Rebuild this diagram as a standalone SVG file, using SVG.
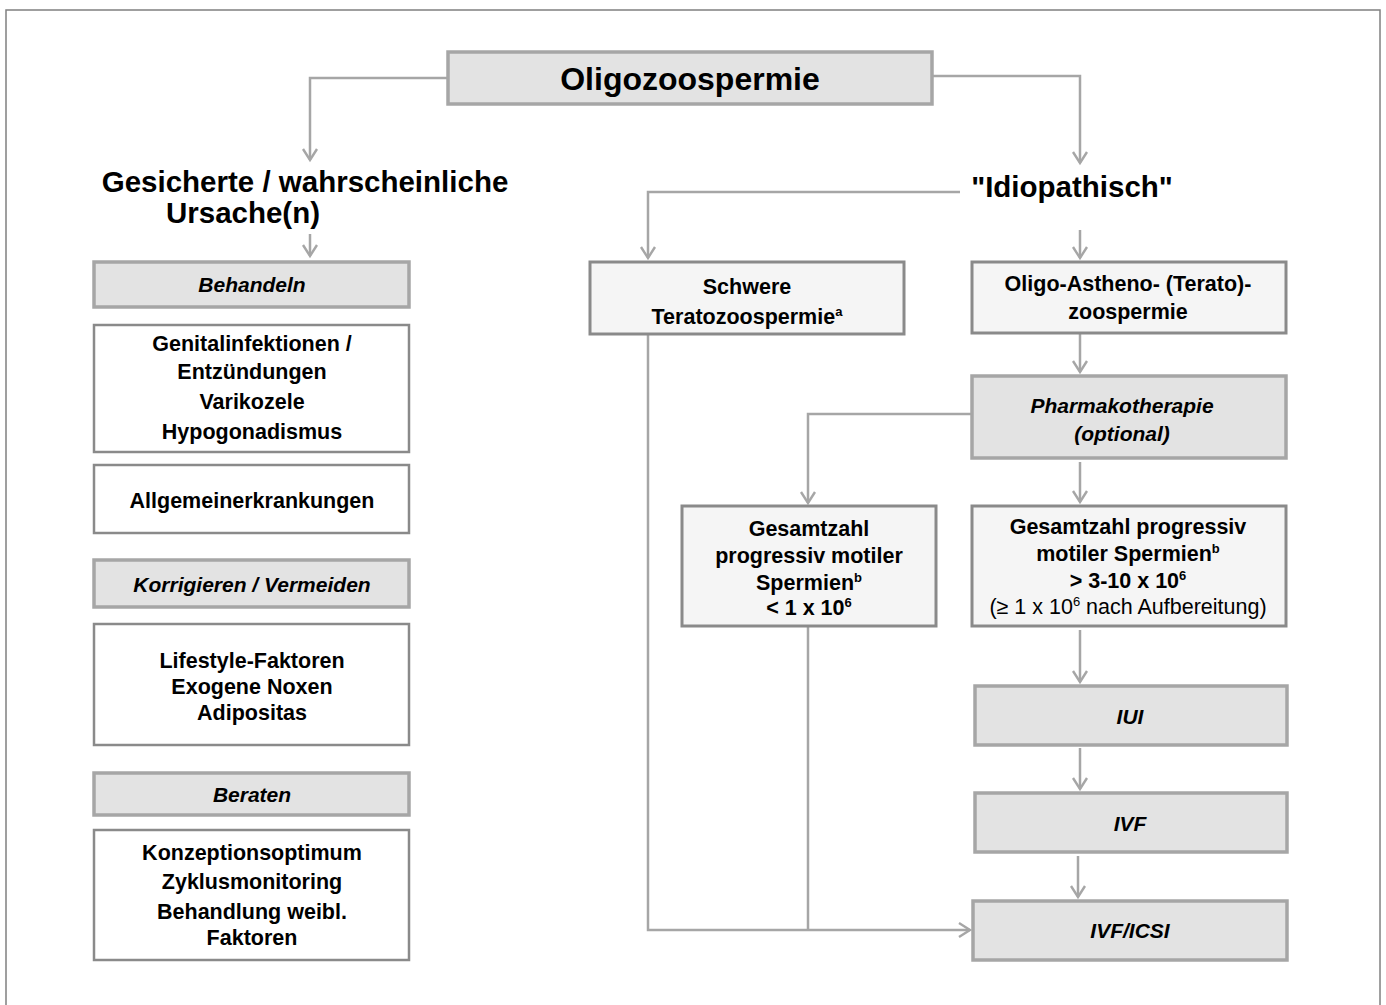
<svg xmlns="http://www.w3.org/2000/svg" width="1386" height="1005" viewBox="0 0 1386 1005">
<defs>
<style>
text{font-family:"Liberation Sans",Arial,sans-serif;font-weight:bold;fill:#000;text-anchor:middle}
.big{font-size:32px}
.h{font-size:29.5px}
.t{font-size:21.5px}
.i{font-size:21px;font-style:italic}
.n{font-weight:normal}
.gray{fill:#e3e3e3;stroke:#a6a6a6;stroke-width:3.5}
.white{fill:#fff;stroke:#8a8a8a;stroke-width:2.5}
.light{fill:#f5f5f5;stroke:#8a8a8a;stroke-width:3}
.c{fill:none;stroke:#a6a6a6;stroke-width:2.5}
</style>
<marker id="arr" markerWidth="20" markerHeight="20" viewBox="-12 -10 20 20" refX="0" refY="0" orient="auto" markerUnits="userSpaceOnUse">
<path d="M-11,-7 L0,0 L-11,7" fill="none" stroke="#a6a6a6" stroke-width="2.4"/>
</marker>
</defs>
<rect x="6" y="10" width="1374" height="1010" fill="#fff" stroke="#808080" stroke-width="1.5"/>

<g id="connectors">
<path class="c" d="M448,78 H310 V160" marker-end="url(#arr)"/>
<path class="c" d="M932,76 H1080 V163" marker-end="url(#arr)"/>
<path class="c" d="M310,234 V256" marker-end="url(#arr)"/>
<path class="c" d="M960,192 H648 V258" marker-end="url(#arr)"/>
<path class="c" d="M1080,230 V258" marker-end="url(#arr)"/>
<path class="c" d="M1080,334 V372" marker-end="url(#arr)"/>
<path class="c" d="M972,414 H808 V503" marker-end="url(#arr)"/>
<path class="c" d="M1080,462 V502" marker-end="url(#arr)"/>
<path class="c" d="M1080,630 V682" marker-end="url(#arr)"/>
<path class="c" d="M1080,748 V789" marker-end="url(#arr)"/>
<path class="c" d="M1078,856 V897" marker-end="url(#arr)"/>
<path class="c" d="M648,334 V930 H970" marker-end="url(#arr)"/>
<path class="c" d="M808,626 V930"/>
</g>

<g id="n-title">
<rect class="gray" x="448" y="52" width="484" height="52"/>
<text class="big" x="690" y="90">Oligozoospermie</text>
</g>
<g id="n-ursache">
<text class="h" x="305" y="192">Gesicherte / wahrscheinliche</text>
<text class="h" x="243" y="223">Ursache(n)</text>
</g>
<g id="n-behandeln">
<rect class="gray" x="94" y="262" width="315" height="45"/>
<text class="i" x="252" y="292">Behandeln</text>
</g>
<g id="n-genital">
<rect class="white" x="94" y="325" width="315" height="127"/>
<text class="t" x="252" y="351">Genitalinfektionen /</text>
<text class="t" x="252" y="379">Entzündungen</text>
<text class="t" x="252" y="409">Varikozele</text>
<text class="t" x="252" y="439">Hypogonadismus</text>
</g>
<g id="n-allgemein">
<rect class="white" x="94" y="465" width="315" height="68"/>
<text class="t" x="252" y="508">Allgemeinerkrankungen</text>
</g>
<g id="n-korrigieren">
<rect class="gray" x="94" y="560" width="315" height="47"/>
<text class="i" x="252" y="592">Korrigieren / Vermeiden</text>
</g>
<g id="n-lifestyle">
<rect class="white" x="94" y="624" width="315" height="121"/>
<text class="t" x="252" y="668">Lifestyle-Faktoren</text>
<text class="t" x="252" y="694">Exogene Noxen</text>
<text class="t" x="252" y="720">Adipositas</text>
</g>
<g id="n-beraten">
<rect class="gray" x="94" y="773" width="315" height="42"/>
<text class="i" x="252" y="802">Beraten</text>
</g>
<g id="n-konzeption">
<rect class="white" x="94" y="830" width="315" height="130"/>
<text class="t" x="252" y="860">Konzeptionsoptimum</text>
<text class="t" x="252" y="889">Zyklusmonitoring</text>
<text class="t" x="252" y="919">Behandlung weibl.</text>
<text class="t" x="252" y="945">Faktoren</text>
</g>
<g id="n-idiopathisch">
<text class="h" x="1072" y="197">"Idiopathisch"</text>
</g>
<g id="n-schwere">
<rect class="light" x="590" y="262" width="314" height="72"/>
<text class="t" x="747" y="294">Schwere</text>
<text class="t" x="747" y="324">Teratozoospermie<tspan font-size="13" dy="-8">a</tspan></text>
</g>
<g id="n-oat">
<rect class="light" x="972" y="262" width="314" height="71"/>
<text class="t" x="1128" y="291">Oligo-Astheno- (Terato)-</text>
<text class="t" x="1128" y="319">zoospermie</text>
</g>
<g id="n-pharma">
<rect class="gray" x="972" y="376" width="314" height="82"/>
<text class="i" x="1122" y="413">Pharmakotherapie</text>
<text class="i" x="1122" y="441">(optional)</text>
</g>
<g id="n-lt1">
<rect class="light" x="682" y="506" width="254" height="120"/>
<text class="t" x="809" y="536">Gesamtzahl</text>
<text class="t" x="809" y="563">progressiv motiler</text>
<text class="t" x="809" y="590">Spermien<tspan font-size="13" dy="-8">b</tspan></text>
<text class="t" x="809" y="615">&lt; 1 x 10<tspan font-size="13" dy="-8">6</tspan></text>
</g>
<g id="n-gt3">
<rect class="light" x="972" y="506" width="314" height="120"/>
<text class="t" x="1128" y="534">Gesamtzahl progressiv</text>
<text class="t" x="1128" y="561">motiler Spermien<tspan font-size="13" dy="-8">b</tspan></text>
<text class="t" x="1128" y="588">&gt; 3-10 x 10<tspan font-size="13" dy="-8">6</tspan></text>
<text class="t n" x="1128" y="614">(≥ 1 x 10<tspan font-size="13" dy="-8">6</tspan><tspan dy="8"> nach Aufbereitung)</tspan></text>
</g>
<g id="n-iui">
<rect class="gray" x="975" y="686" width="312" height="59"/>
<text class="i" x="1130" y="724">IUI</text>
</g>
<g id="n-ivf">
<rect class="gray" x="975" y="793" width="312" height="59"/>
<text class="i" x="1130" y="831">IVF</text>
</g>
<g id="n-icsi">
<rect class="gray" x="973" y="901" width="314" height="59"/>
<text class="i" x="1130" y="938">IVF/ICSI</text>
</g>
</svg>
